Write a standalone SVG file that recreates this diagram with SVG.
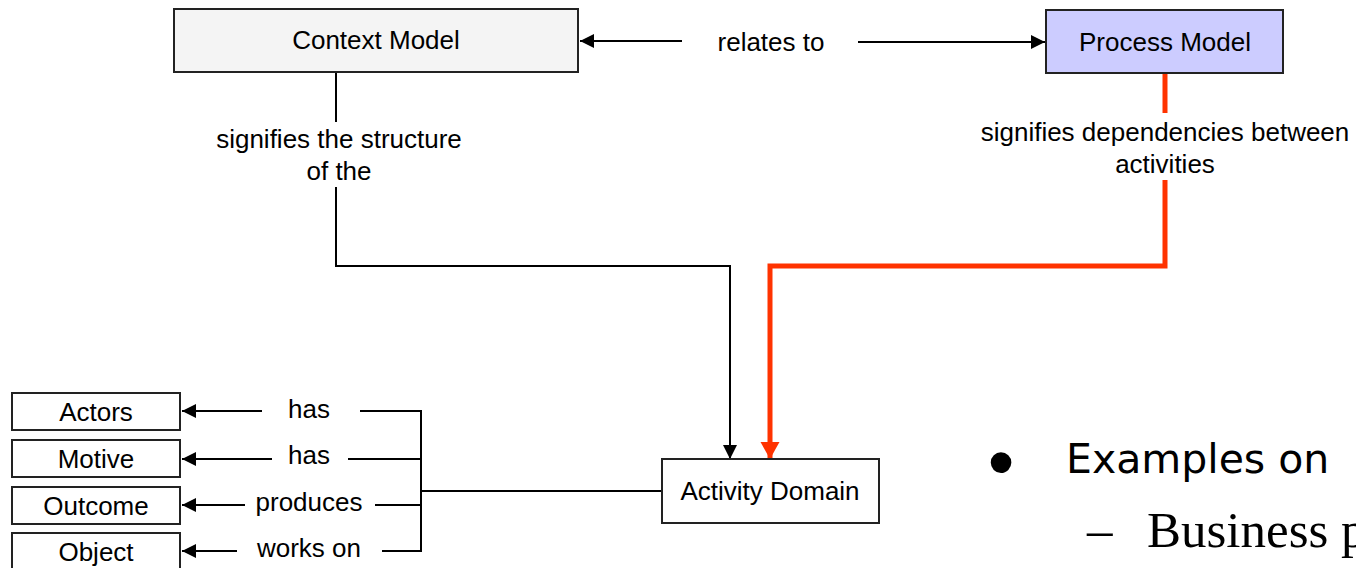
<svg xmlns="http://www.w3.org/2000/svg" width="1356" height="568" viewBox="0 0 1356 568">
<defs>
<marker id="ah" markerUnits="userSpaceOnUse" markerWidth="16" markerHeight="14" refX="14" refY="7" orient="auto"><path d="M0,0 L14,7 L0,14 Z" fill="#000"/></marker>
<marker id="ahr" markerUnits="userSpaceOnUse" markerWidth="20" markerHeight="20" refX="17" refY="9.5" orient="auto"><path d="M0,0 L17,9.5 L0,19 Z" fill="#ff3300"/></marker>
<style>
.box{stroke:#222;stroke-width:2}
.t{font-family:"Liberation Sans",Arial,sans-serif;font-size:26px;fill:#000;text-anchor:middle}
.ln{fill:none;stroke:#000;stroke-width:2}
.red{fill:none;stroke:#ff3300;stroke-width:5}
</style>
</defs>
<rect width="1356" height="568" fill="#fff"/>
<g id="connectors">
<line class="ln" x1="682" y1="41" x2="580" y2="41" marker-end="url(#ah)"/>
<line class="ln" x1="858" y1="42" x2="1045" y2="42" marker-end="url(#ah)"/>
<text class="t" x="771" y="51">relates to</text>
<polyline class="ln" points="336,72 336,122"/>
<polyline class="ln" points="336,187 336,266 730,266 730,459" marker-end="url(#ah)"/>
<text class="t" x="339" y="148">signifies the structure</text>
<text class="t" x="339" y="180">of  the</text>
<polyline class="red" points="1165,73 1165,113"/>
<polyline class="red" points="1165,180 1165,266 770,266 770,459" marker-end="url(#ahr)"/>
<text class="t" x="1165" y="141">signifies dependencies between</text>
<text class="t" x="1165" y="173">activities</text>
<line class="ln" x1="421" y1="491" x2="662" y2="491"/>
<polyline class="ln" points="360,411 421,411 421,551 382,551"/>
<line class="ln" x1="348" y1="459" x2="421" y2="459"/>
<line class="ln" x1="375" y1="505" x2="421" y2="505"/>
<line class="ln" x1="262" y1="411" x2="182" y2="411" marker-end="url(#ah)"/>
<line class="ln" x1="272" y1="459" x2="182" y2="459" marker-end="url(#ah)"/>
<line class="ln" x1="245" y1="505" x2="182" y2="505" marker-end="url(#ah)"/>
<line class="ln" x1="237" y1="551" x2="182" y2="551" marker-end="url(#ah)"/>
<text class="t" x="309" y="418">has</text>
<text class="t" x="309" y="464">has</text>
<text class="t" x="309" y="511">produces</text>
<text class="t" x="309" y="557">works on</text>
</g>
<g id="context-model">
<rect class="box" x="174" y="9" width="404" height="63" fill="#f4f4f4"/>
<text class="t" x="376" y="49">Context Model</text>
</g>
<g id="process-model">
<rect class="box" x="1046" y="10" width="237" height="63" fill="#ccccff"/>
<text class="t" x="1165" y="51">Process Model</text>
</g>
<g id="activity-domain">
<rect class="box" x="662" y="459" width="217" height="64" fill="#fff"/>
<text class="t" x="770" y="500">Activity Domain</text>
</g>
<g id="actors">
<rect class="box" x="12" y="393" width="168" height="37" fill="#fff"/>
<text class="t" x="96" y="421">Actors</text>
</g>
<g id="motive">
<rect class="box" x="12" y="440" width="168" height="37" fill="#fff"/>
<text class="t" x="96" y="468">Motive</text>
</g>
<g id="outcome">
<rect class="box" x="12" y="487" width="168" height="37" fill="#fff"/>
<text class="t" x="96" y="515">Outcome</text>
</g>
<g id="object">
<rect class="box" x="12" y="533" width="168" height="40" fill="#fff"/>
<text class="t" x="96" y="561">Object</text>
</g>
<g id="slide-text">
<text x="1001" y="488" font-family="Liberation Sans, Arial, sans-serif" font-size="76" text-anchor="middle">•</text>
<text x="1066" y="473" font-family="DejaVu Sans, Verdana, sans-serif" font-size="41">Examples on</text>
<text x="1087" y="547" font-family="Liberation Serif, Times New Roman, serif" font-size="51">–</text>
<text x="1147" y="547" font-family="Liberation Serif, Times New Roman, serif" font-size="51">Business pr</text>
</g>
</svg>
